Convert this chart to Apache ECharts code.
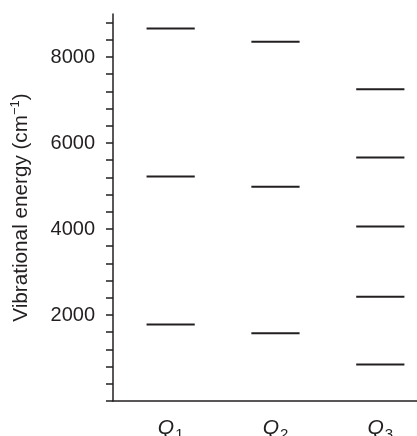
<!DOCTYPE html>
<html>
<head>
<meta charset="utf-8">
<script src="https://cdn.jsdelivr.net/npm/echarts@6/dist/echarts.min.js"></script>
<style>
  html, body { margin: 0; padding: 0; background: #fff; }
  #chart { width: 417px; height: 436px; }
</style>
</head>
<body>
<div id="chart"></div>
<script>
// normal modes and their x positions
const modes = ['1', '2', '3'];
const modePos = [1, 2, 3];
// vibrational levels (cm-1)
const q1Levels = [1780, 5220, 8660];
const q2Levels = [1575, 4985, 8355];
const q3Levels = [850, 2425, 4060, 5665, 7250];
// y ticks every 400, labels every 2000
const yTickValues = [0, 400, 800, 1200, 1600, 2000, 2400, 2800, 3200, 3600, 4000, 4400,
  4800, 5200, 5600, 6000, 6400, 6800, 7200, 7600, 8000, 8400, 8800];
const yLabelValues = [2000, 4000, 6000, 8000];

const levelData = [];
[q1Levels, q2Levels, q3Levels].forEach((levels, i) => {
  levels.forEach(v => levelData.push([modePos[i], v]));
});

const ink = '#231f20';
const halfWidth = 0.23; // half length of each level bar, in x units

const chart = echarts.init(document.getElementById('chart'));

const option = {
  animation: false,
  grid: { left: 113, right: 0, top: 14, bottom: 35, outerBoundsMode: 'none' },
  xAxis: {
    type: 'value',
    min: 0.45,
    max: 3.35,
    splitLine: { show: false },
    axisTick: { show: false },
    axisLine: { lineStyle: { color: ink, width: 1.5 } },
    axisLabel: {
      customValues: modePos,
      margin: 13,
      formatter: v => '{q|Q}{s|' + modes[modePos.indexOf(v)] + '}',
      rich: {
        q: { fontFamily: 'Liberation Sans', fontStyle: 'italic', fontSize: 21, color: ink },
        s: { fontFamily: 'Liberation Sans', fontSize: 15, color: ink, padding: [13, 0, 0, 1] }
      }
    }
  },
  yAxis: {
    type: 'value',
    min: 0,
    max: 9000,
    splitLine: { show: false },
    axisLine: { lineStyle: { color: ink, width: 1.5 } },
    axisTick: { customValues: yTickValues, length: 7, lineStyle: { color: ink, width: 1.5 } },
    axisLabel: {
      customValues: yLabelValues,
      margin: 18,
      fontFamily: 'Liberation Sans',
      fontSize: 20,
      color: ink,
      formatter: v => String(v)
    },
    name: '{t|Vibrational energy (cm}{sup|\u22121}{t|)}',
    nameLocation: 'middle',
    nameRotate: 90,
    nameGap: 80,
    nameTextStyle: {
      rich: {
        t: { fontFamily: 'Liberation Sans', fontSize: 20.7, color: ink },
        sup: { fontFamily: 'Liberation Sans', fontSize: 13, color: ink, padding: [0, 0, 11, 0] }
      }
    }
  },
  series: [{
    type: 'custom',
    data: levelData,
    renderItem: (params, api) => {
      const x = api.value(0);
      const y = api.value(1);
      const a = api.coord([x - halfWidth, y]);
      const b = api.coord([x + halfWidth, y]);
      return {
        type: 'line',
        shape: { x1: a[0], y1: a[1], x2: b[0], y2: b[1] },
        style: { stroke: ink, lineWidth: 2 }
      };
    }
  }]
};

chart.setOption(option);
</script>
</body>
</html>
